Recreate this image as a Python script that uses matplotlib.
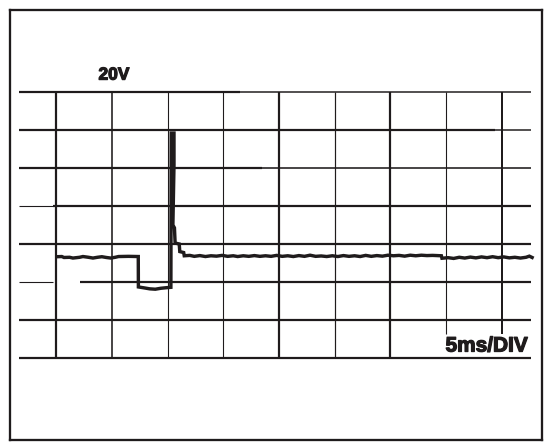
import matplotlib.pyplot as plt
import matplotlib.patheffects as pe

# scope trace: time in ms (5 ms/div), voltage in V (20 V/div)
trace_t = [0.05, 0.5, 0.7, 1.2, 1.5, 2.1, 2.4, 2.9, 3.3, 3.7, 4.1, 4.5, 4.9, 5.3, 5.6, 6.5, 7.37,
           7.38, 7.9, 8.4, 8.9, 9.4, 9.9, 10.3,
           10.33, 10.58, 10.58, 10.48, 10.62, 10.68, 11.05, 11.10, 11.45, 11.5,
           12.0, 12.4, 12.9, 13.4, 13.9, 14.4, 14.9, 15.4, 15.9, 16.3, 16.8, 17.3, 17.8, 18.3,
           18.8, 19.3, 19.8, 20.3, 20.8, 21.3, 21.8, 22.3, 22.8, 23.3, 23.8, 24.3, 24.8, 25.3,
           25.8, 26.3, 26.8, 27.3, 27.8, 28.3, 28.8, 29.3, 29.8, 30.3, 30.8, 31.3, 31.8, 32.3,
           32.8, 33.3, 33.8, 34.6,
           34.65, 35.2, 35.7, 36.2, 36.7, 37.2, 37.7, 38.2, 38.7, 39.2, 39.7, 40.2, 40.7, 41.2,
           41.7, 42.2, 42.5, 42.75]
trace_v = [13.3, 13.4, 12.9, 13.0, 12.6, 13.0, 13.4, 13.0, 12.6, 13.0, 13.3, 12.9, 12.6, 13.0, 13.4, 13.5, 13.4,
           -2.6, -3.1, -3.6, -3.8, -3.3, -3.0, -2.8,
           78.4, 78.4, 61.6, 30.0, 28.5, 20.5, 20.0, 16.0, 15.5, 13.8,
           14.0, 13.5, 13.9, 13.4, 13.8, 13.6, 14.0, 13.5, 13.8, 13.4, 13.8, 13.5, 13.9, 13.5,
           13.8, 13.5, 14.0, 13.5, 13.8, 13.4, 13.9, 13.5, 14.1, 13.5, 13.7, 13.4, 13.8, 13.4,
           13.9, 13.5, 13.8, 13.4, 14.0, 13.5, 13.9, 13.6, 14.1, 13.8, 14.0, 13.6, 14.1, 13.8,
           14.1, 13.9, 14.0, 13.8,
           12.5, 12.8, 12.4, 13.0, 12.6, 13.1, 12.7, 13.2, 12.8, 13.3, 12.8, 13.2, 12.7, 13.0,
           12.6, 13.0, 13.6, 12.9]

# graticule
h_levels = [100, 80, 60, 40, 20, 0, -20, -40]
v_times = [0, 5, 10, 15, 20, 25, 30, 35, 40]
v_widths_px = [2.2, 1.6, 1.1, 1.1, 2.2, 1.2, 2.2, 1.1, 2.0]
volt_label = "20V"
time_label = "5ms/DIV"

INK = "#1f1b1c"
PX = 0.72  # points per pixel at dpi 100

fig = plt.figure(figsize=(5.48, 4.45), dpi=100)
ax = fig.add_axes([9.8 / 548, 5.5 / 445, 531.9 / 548, 429.2 / 445])
ax.set_xlim(-4.17, 43.61)
ax.set_ylim(-82.9, 143.0)
ax.set_xticks([])
ax.set_yticks([])
for s in ax.spines.values():
    s.set_linewidth(2.3 * PX)
    s.set_color(INK)

x0, x1 = -3.31, 42.65
for lvl in h_levels:
    if lvl == 100:
        ax.plot([x0, 16.5], [lvl, lvl], color=INK, lw=2.2 * PX, solid_capstyle="butt")
        ax.plot([16.5, x1], [lvl, lvl], color=INK, lw=1.5 * PX, solid_capstyle="butt")
    elif lvl == 80:
        ax.plot([x0, 39.4], [lvl, lvl], color=INK, lw=2.2 * PX, solid_capstyle="butt")
        ax.plot([39.4, x1], [lvl, lvl], color=INK, lw=1.5 * PX, solid_capstyle="butt")
    elif lvl == 60:
        ax.plot([x0, 18.5], [lvl, lvl], color=INK, lw=2.2 * PX, solid_capstyle="butt")
        ax.plot([18.5, x1], [lvl, lvl], color=INK, lw=1.6 * PX, solid_capstyle="butt")
    elif lvl == 40:
        ax.plot([x0, -0.3], [lvl, lvl], color=INK, lw=1.1 * PX, solid_capstyle="butt")
        ax.plot([-0.3, x1], [lvl, lvl], color=INK, lw=2.2 * PX, solid_capstyle="butt")
    elif lvl == 0:
        ax.plot([x0, -0.3], [lvl, lvl], color=INK, lw=1.1 * PX, solid_capstyle="butt")
        ax.plot([2.14, x1], [lvl, lvl], color=INK, lw=2.2 * PX, solid_capstyle="butt")
    else:
        ax.plot([x0, x1], [lvl, lvl], color=INK, lw=2.2 * PX, solid_capstyle="butt")

for t, w in zip(v_times, v_widths_px):
    top = -27.5 if t >= 35 else -40
    ax.plot([t, t], [top, 100], color=INK, lw=w * PX, solid_capstyle="butt")

ax.plot(trace_t, trace_v, color=INK, lw=3.4 * PX, solid_joinstyle="miter")

bold_fx = [pe.withStroke(linewidth=0.9, foreground=INK)]
ax.text(5.19, 108.9, volt_label, ha="center", va="center", fontsize=12.5,
        fontweight="bold", family="Liberation Sans", color=INK, path_effects=bold_fx)
ax.text(38.66, -33.7, time_label, ha="center", va="center", fontsize=15,
        fontweight="bold", family="Liberation Sans", color=INK, path_effects=bold_fx)

fig.savefig("out.png", dpi=100)
